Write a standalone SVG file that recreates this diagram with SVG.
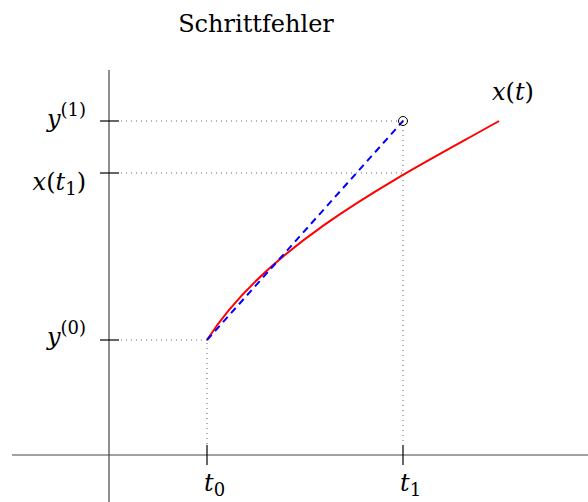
<svg xmlns="http://www.w3.org/2000/svg" width="588" height="502" viewBox="0 0 588 502">
<style>
.t{font-family:"DejaVu Serif","Liberation Serif",serif;font-size:24px;fill:#000}
.m{font-style:italic}
.s{font-size:18px;font-style:normal}
.n{font-style:normal}
.ax{stroke:#444;stroke-width:1.2;fill:none}
.tk{stroke:#000;stroke-width:1.2}
.dot{stroke:#666;stroke-width:1;stroke-dasharray:1 4;fill:none}
</style>
<rect width="588" height="502" fill="#fff"/>
<g id="title"><text class="t" x="256" y="32" text-anchor="middle">Schrittfehler</text></g>
<g id="connectors">
<line class="ax" x1="109" y1="70" x2="109" y2="502"/>
<line class="ax" x1="12" y1="455" x2="588" y2="455"/>
<line class="tk" x1="100" y1="121" x2="119" y2="121"/>
<line class="tk" x1="100" y1="173" x2="119" y2="173"/>
<line class="tk" x1="100" y1="340" x2="119" y2="340"/>
<line class="tk" x1="207" y1="445" x2="207" y2="465"/>
<line class="tk" x1="403" y1="445" x2="403" y2="465"/>
<line class="dot" x1="121" y1="121" x2="400" y2="121"/>
<line class="dot" x1="121" y1="173" x2="403" y2="173"/>
<line class="dot" x1="121" y1="340" x2="207" y2="340"/>
<line class="dot" x1="207" y1="343" x2="207" y2="445"/>
<line class="dot" x1="403" y1="125" x2="403" y2="445"/>
<path d="M207,340 C270,240 409,172 499,121" fill="none" stroke="#ff0000" stroke-width="2"/>
<line x1="207" y1="340" x2="403" y2="121" stroke="#0000ff" stroke-width="2" stroke-dasharray="7 5"/>
<circle cx="403" cy="121" r="4.5" fill="none" stroke="#000" stroke-width="1"/>
<circle cx="403" cy="121" r="0.8" fill="#000"/>
</g>
<g id="labels">
<text class="t m" x="86" y="127" text-anchor="end">y<tspan class="s" dy="-11">(1)</tspan></text>
<text class="t m" x="86" y="190" text-anchor="end">x<tspan class="n">(</tspan>t<tspan class="s" dy="5">1</tspan><tspan class="n" dy="-5">)</tspan></text>
<text class="t m" x="86" y="345" text-anchor="end">y<tspan class="s" dy="-11">(0)</tspan></text>
<text class="t m" x="204" y="491">t<tspan class="s" dy="5">0</tspan></text>
<text class="t m" x="400" y="491">t<tspan class="s" dy="5">1</tspan></text>
<text class="t m" x="492" y="100">x<tspan class="n">(</tspan>t<tspan class="n">)</tspan></text>
</g>
</svg>
